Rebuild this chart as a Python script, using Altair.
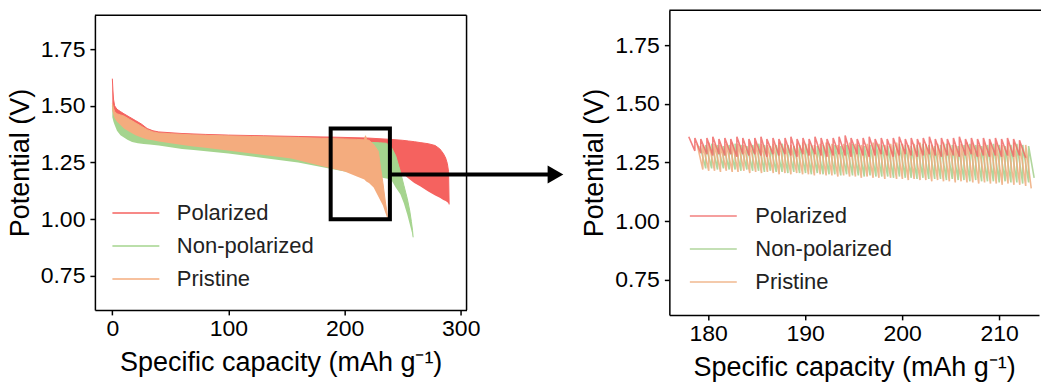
import altair as alt
import pandas as pd

SERIES = ["Polarized", "Non-polarized", "Pristine"]
FILL_COLORS = ["#f5625f", "#a5d48e", "#f4ac7e"]
LINE_COLORS = ["#f06a68", "#a3cf8c", "#efac7d"]
FONT = "Liberation Sans"

# ---------- left panel: GITT envelopes (upper / lower potential) ----------
pol_cap = [0, 0.5, 1, 2, 4, 7, 10, 15, 20, 25, 30, 35, 40, 60, 80, 100, 130, 160, 190, 220,
           240, 250, 255, 260, 265, 272, 278, 282, 285, 287, 288.5, 289.5, 290]
pol_hi = [1.62, 1.57, 1.53, 1.50, 1.485, 1.475, 1.465, 1.45, 1.435, 1.42, 1.40, 1.39, 1.385,
          1.378, 1.374, 1.371, 1.368, 1.365, 1.362, 1.358, 1.352, 1.348, 1.345, 1.342, 1.338,
          1.333, 1.325, 1.31, 1.29, 1.27, 1.245, 1.21, 1.065]
pol_lo = [1.50, 1.49, 1.48, 1.46, 1.44, 1.42, 1.41, 1.395, 1.38, 1.37, 1.36, 1.355, 1.35,
          1.34, 1.33, 1.32, 1.30, 1.28, 1.255, 1.235, 1.22, 1.20, 1.18, 1.16, 1.145, 1.122,
          1.105, 1.095, 1.085, 1.08, 1.075, 1.07, 1.065]

non_cap = [0, 1, 2, 4, 7, 10, 13, 17, 22, 27, 32, 40, 50, 60, 70, 100, 130, 160, 190, 210,
           222, 230, 236, 240, 244, 248, 251, 254, 256, 257.5, 258.5, 259]
non_hi = [1.50, 1.47, 1.455, 1.44, 1.43, 1.42, 1.41, 1.40, 1.39, 1.38, 1.37, 1.365, 1.36,
          1.358, 1.355, 1.35, 1.348, 1.345, 1.343, 1.341, 1.339, 1.337, 1.335, 1.32, 1.28,
          1.21, 1.15, 1.09, 1.04, 0.99, 0.95, 0.92]
non_lo = [1.45, 1.43, 1.415, 1.39, 1.37, 1.36, 1.35, 1.34, 1.335, 1.332, 1.33, 1.325, 1.317,
          1.31, 1.305, 1.29, 1.27, 1.25, 1.22, 1.20, 1.19, 1.185, 1.18, 1.175, 1.14, 1.11,
          1.07, 1.02, 0.98, 0.95, 0.93, 0.92]

pri_cap = [0, 1, 2, 4, 7, 10, 15, 20, 25, 30, 35, 40, 50, 68, 80, 96, 120, 154, 180, 200,
           210, 217, 218, 219, 221, 225, 229, 231, 233, 235, 236.5, 237]
pri_hi = [1.51, 1.49, 1.475, 1.465, 1.46, 1.455, 1.44, 1.425, 1.41, 1.395, 1.385, 1.38,
          1.377, 1.372, 1.37, 1.368, 1.365, 1.361, 1.357, 1.354, 1.352, 1.35, 1.368, 1.35,
          1.348, 1.33, 1.30, 1.225, 1.16, 1.08, 1.03, 1.00]
pri_lo = [1.48, 1.46, 1.445, 1.43, 1.415, 1.40, 1.385, 1.37, 1.36, 1.352, 1.348, 1.343,
          1.335, 1.322, 1.315, 1.305, 1.29, 1.268, 1.235, 1.21, 1.19, 1.175, 1.17, 1.165,
          1.16, 1.14, 1.10, 1.08, 1.06, 1.03, 1.01, 1.00]

# ---------- right panel: individual GITT pulses (tooth boundaries, start / end potential) ----------
pol_t_cap = [178.0, 178.63, 179.24, 179.87, 180.48, 181.11, 181.72, 182.33, 182.96, 183.57,
             184.2, 184.81, 185.44, 186.05, 186.68, 187.29, 187.92, 188.53, 189.16, 189.77,
             190.4, 191.01, 191.64, 192.25, 192.88, 193.49, 194.12, 194.73, 195.36, 195.97,
             196.6, 197.21, 197.84, 198.45, 199.08, 199.69, 200.32, 200.93, 201.56, 202.17,
             202.8, 203.41, 204.04, 204.65, 205.28, 205.89, 206.52, 207.13, 207.76, 208.37,
             209.0, 209.61, 210.24, 210.85, 211.48, 212.09, 212.72]
pol_t_top = [1.36, 1.355, 1.35, 1.355, 1.36, 1.35, 1.355, 1.35, 1.36, 1.355,
             1.35, 1.355, 1.36, 1.35, 1.355, 1.35, 1.355, 1.36, 1.35, 1.355,
             1.35, 1.36, 1.355, 1.35, 1.355, 1.36, 1.365, 1.355, 1.35, 1.355,
             1.36, 1.35, 1.355, 1.35, 1.355, 1.36, 1.35, 1.355, 1.35, 1.355,
             1.36, 1.35, 1.355, 1.35, 1.355, 1.36, 1.35, 1.355, 1.35, 1.355,
             1.35, 1.355, 1.35, 1.355, 1.35, 1.345]
pol_t_bot = [1.30, 1.29, 1.285, 1.28, 1.285, 1.28, 1.285, 1.275, 1.285, 1.28,
             1.285, 1.28, 1.275, 1.285, 1.28, 1.285, 1.28, 1.275, 1.285, 1.28,
             1.285, 1.28, 1.275, 1.28, 1.285, 1.28, 1.275, 1.285, 1.28, 1.275,
             1.28, 1.285, 1.28, 1.275, 1.28, 1.285, 1.28, 1.275, 1.28, 1.285,
             1.28, 1.275, 1.28, 1.28, 1.275, 1.28, 1.285, 1.275, 1.28, 1.275,
             1.28, 1.275, 1.28, 1.275, 1.28, 1.27]

non_t_cap = [179.15, 179.75, 180.36, 180.96, 181.57, 182.17, 182.78, 183.38, 183.99, 184.59,
             185.2, 185.8, 186.41, 187.01, 187.62, 188.22, 188.83, 189.43, 190.04, 190.64,
             191.25, 191.85, 192.46, 193.06, 193.67, 194.27, 194.88, 195.48, 196.09, 196.69,
             197.3, 197.9, 198.51, 199.11, 199.72, 200.32, 200.93, 201.53, 202.14, 202.74,
             203.35, 203.95, 204.56, 205.16, 205.77, 206.37, 206.98, 207.58, 208.19, 208.79,
             209.4, 210.0, 210.61, 211.21, 211.82, 212.42, 213.03, 213.6]
non_t_top = [1.32, 1.325, 1.33, 1.325, 1.32, 1.325, 1.33, 1.325, 1.32, 1.325,
             1.33, 1.325, 1.32, 1.325, 1.33, 1.325, 1.32, 1.325, 1.33, 1.325,
             1.32, 1.325, 1.33, 1.325, 1.32, 1.325, 1.33, 1.325, 1.32, 1.325,
             1.33, 1.325, 1.32, 1.325, 1.33, 1.325, 1.32, 1.325, 1.33, 1.325,
             1.32, 1.325, 1.33, 1.325, 1.32, 1.325, 1.33, 1.325, 1.32, 1.325,
             1.33, 1.325, 1.32, 1.325, 1.33, 1.325, 1.32]
non_t_bot = [1.225, 1.225, 1.22, 1.225, 1.22, 1.22, 1.215, 1.22, 1.215, 1.215,
             1.21, 1.215, 1.21, 1.21, 1.205, 1.21, 1.205, 1.205, 1.2, 1.205,
             1.2, 1.2, 1.2, 1.195, 1.2, 1.195, 1.195, 1.19, 1.195, 1.19,
             1.19, 1.19, 1.185, 1.19, 1.185, 1.185, 1.18, 1.185, 1.18, 1.18,
             1.18, 1.175, 1.18, 1.175, 1.175, 1.17, 1.175, 1.17, 1.17, 1.17,
             1.165, 1.17, 1.165, 1.165, 1.16, 1.165, 1.185]

pri_t_cap = [178.85, 179.45, 180.06, 180.66, 181.27, 181.87, 182.48, 183.08, 183.69, 184.29,
             184.9, 185.5, 186.11, 186.71, 187.32, 187.92, 188.53, 189.13, 189.74, 190.34,
             190.95, 191.55, 192.16, 192.76, 193.37, 193.97, 194.58, 195.18, 195.79, 196.39,
             197.0, 197.6, 198.21, 198.81, 199.42, 200.02, 200.63, 201.23, 201.84, 202.44,
             203.05, 203.65, 204.26, 204.86, 205.47, 206.07, 206.68, 207.28, 207.89, 208.49,
             209.1, 209.7, 210.31, 210.91, 211.52, 212.12, 212.73, 213.3]
pri_t_top = [1.33, 1.325, 1.335, 1.33, 1.325, 1.33, 1.335, 1.33, 1.325, 1.33,
             1.335, 1.33, 1.325, 1.33, 1.335, 1.33, 1.325, 1.33, 1.335, 1.33,
             1.325, 1.33, 1.335, 1.33, 1.325, 1.33, 1.335, 1.33, 1.325, 1.33,
             1.335, 1.33, 1.325, 1.33, 1.335, 1.33, 1.325, 1.33, 1.335, 1.33,
             1.325, 1.33, 1.335, 1.33, 1.325, 1.33, 1.335, 1.33, 1.325, 1.33,
             1.335, 1.33, 1.325, 1.33, 1.335, 1.33, 1.325]
pri_t_bot = [1.22, 1.215, 1.215, 1.21, 1.215, 1.21, 1.21, 1.215, 1.205, 1.21,
             1.205, 1.21, 1.205, 1.2, 1.205, 1.2, 1.205, 1.2, 1.2, 1.195,
             1.2, 1.195, 1.195, 1.19, 1.195, 1.19, 1.19, 1.185, 1.19, 1.185,
             1.185, 1.18, 1.185, 1.18, 1.18, 1.175, 1.18, 1.175, 1.175, 1.17,
             1.175, 1.17, 1.17, 1.165, 1.17, 1.165, 1.165, 1.16, 1.165, 1.16,
             1.16, 1.155, 1.16, 1.155, 1.155, 1.15, 1.14]

Y_TICKS = [0.75, 1.0, 1.25, 1.5, 1.75]
LEFT_X_TICKS = [0, 100, 200, 300]
RIGHT_X_TICKS = [180, 190, 200, 210]
X_TITLE = "Specific capacity (mAh g\u207b\u00b9)"
Y_TITLE = "Potential (V)"


def band_df(name, cap, hi, lo):
    return pd.DataFrame({"series": name, "cap": cap, "hi": hi, "lo": lo,
                         "i": list(range(len(cap)))})


def tooth_df(name, caps, tops, bots):
    xs, ys = [], []
    for k in range(len(tops)):
        xs += [caps[k], caps[k + 1]]
        ys += [tops[k], bots[k]]
    return pd.DataFrame({"series": name, "cap": xs, "v": ys, "i": list(range(len(xs)))})


bands = [band_df(SERIES[0], pol_cap, pol_hi, pol_lo),
         band_df(SERIES[1], non_cap, non_hi, non_lo),
         band_df(SERIES[2], pri_cap, pri_hi, pri_lo)]
teeth = [tooth_df(SERIES[0], pol_t_cap, pol_t_top, pol_t_bot),
         tooth_df(SERIES[1], non_t_cap, non_t_top, non_t_bot),
         tooth_df(SERIES[2], pri_t_cap, pri_t_top, pri_t_bot)]

LABEL_SIZE = 23
axis_common = dict(labelFontSize=LABEL_SIZE, titleFontSize=27, labelFont=FONT, titleFont=FONT,
                   labelColor="black", titleColor="black", titleFontWeight="normal",
                   tickColor="black", tickSize=5, tickWidth=1.5, grid=False,
                   domain=True, domainColor="black", domainWidth=1.5)

y_scale = alt.Scale(domain=[0.6, 1.9], nice=False, zero=False)
left_x_scale = alt.Scale(domain=[-15, 305], nice=False, zero=False)
right_x_scale = alt.Scale(domain=[176, 214.1], nice=False, zero=False)

lcol_scale = alt.Scale(domain=SERIES, range=FILL_COLORS)
rcol_scale = alt.Scale(domain=SERIES, range=LINE_COLORS)

LEG_PATH = "M-2.5,0H2.5"


def legend(x, y, off):
    return alt.Legend(orient="none", legendX=x, legendY=y, title=None,
                      labelFontSize=22, labelFont=FONT, labelColor="#222222",
                      symbolType=LEG_PATH, symbolSize=353, symbolStrokeWidth=1.5,
                      labelOffset=off, rowPadding=11, padding=0)


lx = alt.X("cap:Q", scale=left_x_scale,
           axis=alt.Axis(values=LEFT_X_TICKS, title=X_TITLE, titlePadding=9,
                         labelPadding=3, **axis_common))
ly_axis = alt.Axis(values=Y_TICKS, format=".2f", title=Y_TITLE,
                   titlePadding=6, labelPadding=5, **axis_common)

left_layers = []
for k, df in enumerate(bands):
    area = alt.Chart(df).mark_area(color=FILL_COLORS[k], opacity=1).encode(
        x=lx,
        y=alt.Y("hi:Q", scale=y_scale, axis=ly_axis),
        y2="lo:Q",
    )
    edge = alt.Chart(df).mark_line(strokeWidth=1).encode(
        x=lx,
        y=alt.Y("hi:Q", scale=y_scale, axis=ly_axis),
        color=alt.Color("series:N", scale=lcol_scale, legend=legend(30, 187, 30)),
        order="i:Q",
    )
    left_layers += [area, edge]

one = pd.DataFrame({"a": [0]})
zoom_box = alt.Chart(one).mark_rect(
    filled=False, stroke="black", strokeWidth=4).encode(
    x=alt.datum(188), x2=alt.datum(239),
    y=alt.datum(1.40), y2=alt.datum(1.0))
arrow_shaft = alt.Chart(one).mark_rule(
    stroke="black", strokeWidth=4).encode(
    x=alt.datum(239), x2=alt.value(456), y=alt.datum(1.197))
arrow_head = alt.Chart(one).mark_point(
    shape="triangle-right", filled=True, color="black", opacity=1, size=330).encode(
    x=alt.value(461), y=alt.datum(1.197))
left_top = alt.Chart(one).mark_rule(stroke="black", strokeWidth=1.5).encode(
    x=alt.value(0), x2=alt.value(372), y=alt.value(0))
left_right = alt.Chart(one).mark_rule(stroke="black", strokeWidth=1.5).encode(
    x=alt.value(372), y=alt.value(0), y2=alt.value(295))

left = alt.layer(*left_layers, zoom_box, arrow_shaft, arrow_head, left_top,
                 left_right).properties(width=372, height=295)

rx = alt.X("cap:Q", scale=right_x_scale,
           axis=alt.Axis(values=RIGHT_X_TICKS, title=X_TITLE, titlePadding=9,
                         labelPadding=3, **axis_common))
ry = alt.Y("v:Q", scale=y_scale,
           axis=alt.Axis(values=Y_TICKS, format=".2f", title=Y_TITLE,
                         titlePadding=6, labelPadding=5, **axis_common))

right_layers = []
for k in [1, 2, 0]:
    right_layers.append(
        alt.Chart(teeth[k]).mark_line(strokeWidth=1.6, opacity=0.85).encode(
            x=rx, y=ry,
            color=alt.Color("series:N", scale=rcol_scale, legend=legend(33, 195, 31)),
            order="i:Q",
        ))
top_frame = alt.Chart(one).mark_rule(
    stroke="black", strokeWidth=1.5).encode(
    x=alt.value(0), x2=alt.value(372), y=alt.value(0))
edge_cover = alt.Chart(one).mark_rule(
    stroke="white", strokeWidth=4).encode(
    x=alt.value(370), y=alt.value(1.5), y2=alt.value(303))

right = alt.layer(*right_layers, top_frame, edge_cover).properties(width=370, height=305)

chart = alt.hconcat(left, right, spacing=203, bounds="flush", center=True).resolve_scale(
    color="independent").properties(
    padding={"left": 6, "top": 9, "right": 1, "bottom": 2},
    background="white",
).configure(font=FONT).configure_view(stroke=None, strokeWidth=0).configure_axis(
    labelFontSize=LABEL_SIZE, labelFont=FONT)

chart.save("out.html", embed_options={"renderer": "svg", "actions": False})
